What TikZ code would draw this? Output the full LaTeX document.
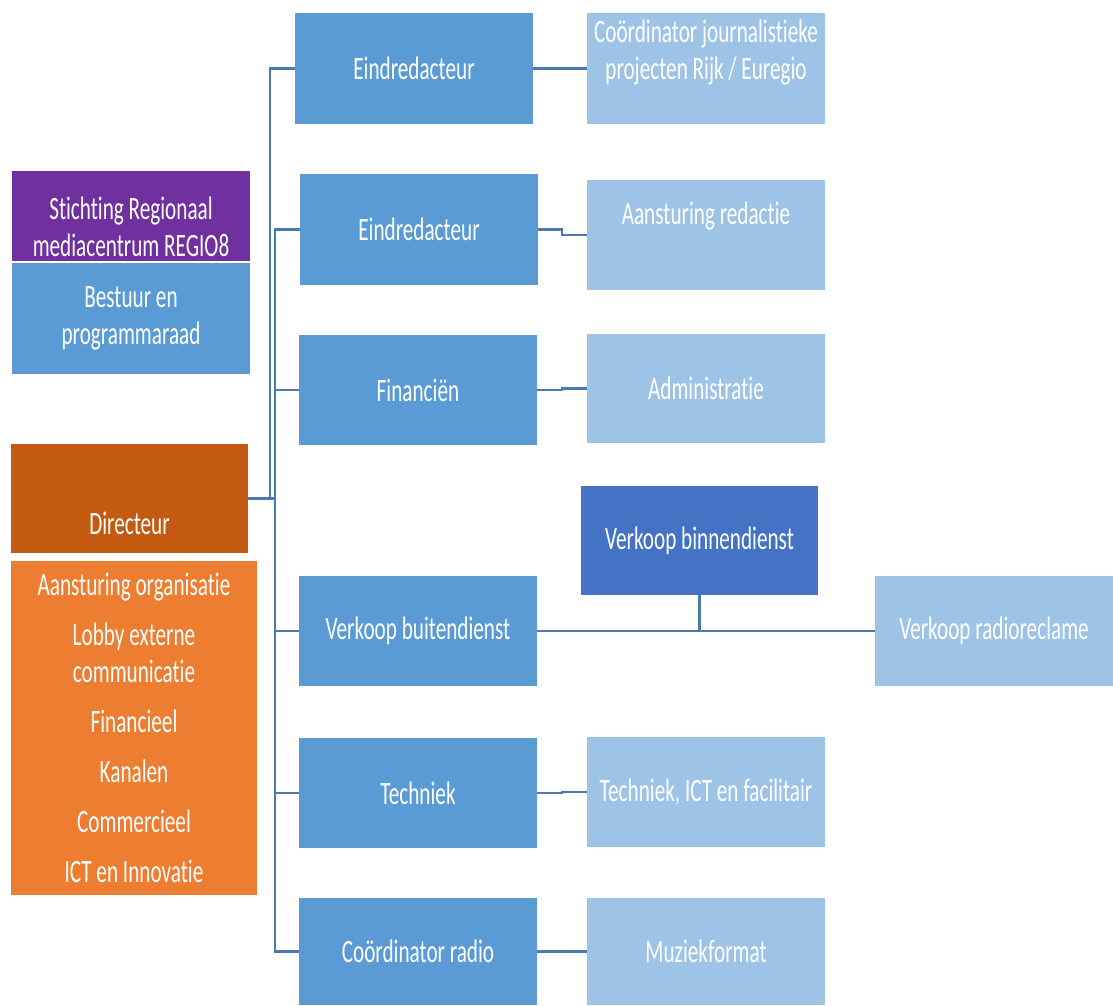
\documentclass[tikz,border=0pt]{standalone}
\usepackage{fontspec}
\newfontfamily\boxfont[FakeStretch=0.65,RawFeature={-liga;-clig;-calt;-dlig}]{Carlito}
\usetikzlibrary{positioning}
\definecolor{paars}{HTML}{7030A0}
\definecolor{midblauw}{HTML}{5B9BD5}
\definecolor{lichtblauw}{HTML}{9DC3E6}
\definecolor{donkerblauw}{HTML}{4472C4}
\definecolor{donkeroranje}{HTML}{C55A11}
\definecolor{oranje}{HTML}{ED7D31}
\definecolor{lijn}{HTML}{4A7AB0}
\tikzstyle{txt} = [text=white, align=center, inner sep=0pt,
    font=\boxfont\fontsize{32.6}{37}\selectfont]
\tikzstyle{box} = [rectangle, txt, minimum width=238, minimum height=110]
\tikzstyle{hoofd} = [box, fill=midblauw]
\tikzstyle{sub} = [box, fill=lichtblauw]
\tikzstyle{conn} = [draw=lijn, line width=2.2pt]

\begin{document}
\begin{tikzpicture}[x=1pt,y=-1pt]
\useasboundingbox[fill=white] (0,0) rectangle (1113,1005);

% links
\node[box, name=stichting, fill=paars, minimum height=90] at (131,216) {};
\node[txt] at (131,227) {Stichting Regionaal\\mediacentrum REGIO8};
\node[hoofd, name=bestuur, minimum height=111] at (131,318.5) {Bestuur en\\programmaraad};
\node[box, name=dir, fill=donkeroranje, minimum width=237, minimum height=109] at (129.5,498.5) {};
\node[txt] at (129.5,523) {Directeur};
\node[box, name=taken, fill=oranje, minimum width=246, minimum height=334] at (134,728)
  {Aansturing organisatie\\[13pt]Lobby externe\\communicatie\\[13pt]Financieel\\[13pt]Kanalen\\[13pt]Commercieel\\[13pt]ICT en Innovatie};

% midden
\node[hoofd, name=eind1, minimum height=111] at (414,68.5) {Eindredacteur};
\node[hoofd, name=eind2, minimum height=111] at (419,229.5) {Eindredacteur};
\node[hoofd, name=fin] at (418,390) {Financiën};
\node[hoofd, name=buiten] at (418,631) {Verkoop buitendienst};
\node[hoofd, name=tech] at (418,793) {Techniek};
\node[hoofd, name=radio, minimum height=107] at (418,951.5) {Coördinator radio};

% rechts
\node[sub, name=coord, minimum height=111] at (706,68.5) {};
\node[txt] at (706,52) {Coördinator journalistieke\\projecten Rijk / Euregio};
\node[sub, name=redactie] at (706,235) {};
\node[txt] at (706,216) {Aansturing redactie};
\node[sub, name=admin, minimum height=109] at (706,388.5) {Administratie};
\node[sub, name=techict] at (706,792) {Techniek, ICT en facilitair};
\node[sub, name=muziek, minimum height=107] at (706,951.5) {Muziekformat};
\node[box, name=binnen, fill=donkerblauw, minimum width=237, minimum height=109] at (699.5,540.5) {Verkoop binnendienst};
\node[sub, name=reclame] at (994,631) {Verkoop radioreclame};

% lijnen
\draw[conn] (dir.east) -- ++(22,0) |- (eind1.west);
\foreach \n in {eind2,fin,buiten,tech,radio}
  \draw[conn] (dir.east) -- ++(27,0) |- (\n.west);

\draw[conn] (eind1.east) -- (coord.west);
\draw[conn] (eind2.east) -- ++(24,0) |- (redactie.west);
\draw[conn] (fin.east) -- ++(25,0) |- (admin.west);
\draw[conn] (tech.east) -- ++(25,0) |- (techict.west);
\draw[conn] (radio.east) -- (muziek.west);
\draw[conn] (buiten.east) -- (reclame.west);
\draw[conn] (binnen.south) -- (binnen.south |- buiten.east);

\end{tikzpicture}
\end{document}
